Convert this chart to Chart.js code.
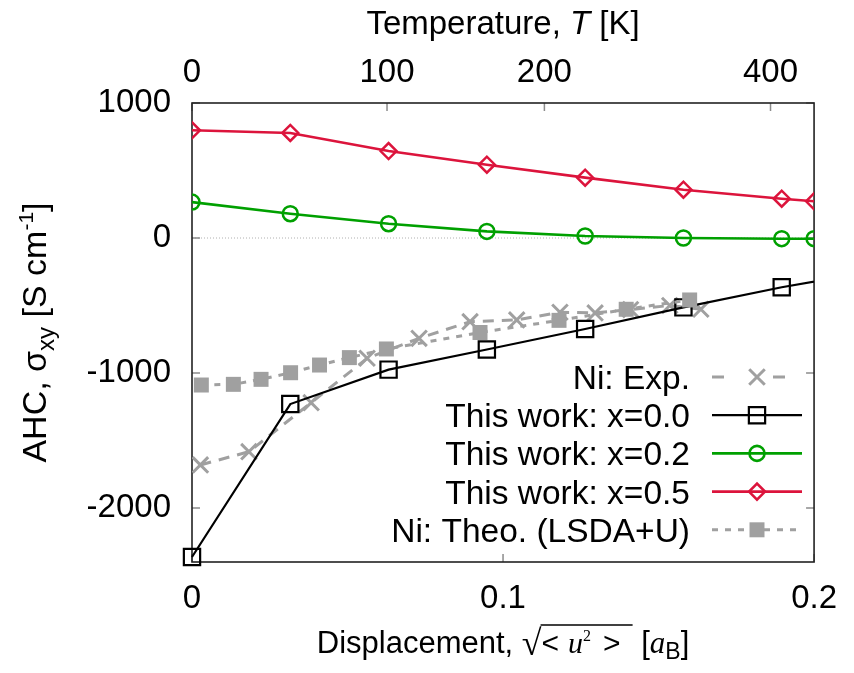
<!DOCTYPE html>
<html>
<head>
<meta charset="utf-8">
<script src="https://cdn.jsdelivr.net/npm/chart.js@4.4.0/dist/chart.umd.min.js"></script>
<style>
    html, body { margin: 0; padding: 0; background: #fff; }
    #wrap { width: 854px; height: 673px; }
</style>
</head>
<body>
<div id="wrap"><canvas id="ahc_chart" width="854" height="673"></canvas></div>
<script>
// axis ticks
const dispTicks = [0, 0.1, 0.2];
const ahcTicks = [-2000, -1000, 0, 1000];
// temperature scale on top, placed at the matching displacement
const tempLabels = ['0', '100', '200', '400'];
const tempAtDisp = [0, 0.0627, 0.1133, 0.186];

// this work (x = Co content)
const workDisp = [0, 0.0316, 0.0632, 0.0948, 0.1264, 0.158, 0.1896, 0.2];
const workDispX00 = [0, 0.0316, 0.0632, 0.0948, 0.1264, 0.158, 0.1896, 0.2212];
const ahcX00 = [-2363, -1230, -975, -826, -674, -514, -365, -237];
const ahcX02 = [266, 180, 106, 49, 15, 0, -5, -5];
const ahcX05 = [798, 778, 644, 543, 447, 358, 291, 272];

// Ni reference data
const expDisp = [0.0027, 0.0183, 0.0383, 0.0563, 0.073, 0.0894, 0.1044, 0.1183, 0.1296, 0.141, 0.1536, 0.1636];
const expAhc = [-1681, -1583, -1220, -891, -743, -620, -607, -550, -555, -530, -500, -528];
const theoDisp = [0.003, 0.0133, 0.0222, 0.0317, 0.041, 0.0506, 0.0625, 0.0926, 0.118, 0.1396, 0.160];
const theoAhc = [-1089, -1084, -1047, -998, -941, -886, -822, -700, -610, -528, -459];

const SANS = "'Liberation Sans', Arial, Helvetica, sans-serif";
const SERIF = "'Liberation Serif', 'Times New Roman', serif";
const GRAY = '#a0a0a0';
const NONE = 'rgba(0,0,0,0)';

const pts = (xs, ys) => xs.map((x, i) => ({ x: x, y: ys[i] }));

// legend order, top to bottom
const legendOrder = ['Ni: Exp.', 'This work: x=0.0', 'This work: x=0.2', 'This work: x=0.5', 'Ni: Theo. (LSDA+U)'];

// draws a run of differently styled pieces centred on x
function richText(ctx, parts, x, y) {
    let total = 0;
    parts.forEach(p => {
        ctx.font = p.font;
        p.w = ctx.measureText(p.text).width + (p.gap || 0);
        total += p.w;
    });
    let cx = x - total / 2;
    const marks = {};
    parts.forEach(p => {
        ctx.font = p.font;
        if (p.mark) marks[p.mark] = cx;
        ctx.fillText(p.text, cx, y + (p.dy || 0));
        cx += p.w;
        if (p.markEnd) marks[p.markEnd] = cx;
    });
    return marks;
}

const framePlugin = {
    id: 'frame',
    beforeDatasetsDraw(chart) {
        const { ctx, chartArea: a, scales } = chart;
        ctx.save();
        // zero line
        const y0 = scales.y.getPixelForValue(0);
        ctx.strokeStyle = '#b0b0b0';
        ctx.lineWidth = 1;
        ctx.setLineDash([1, 2]);
        ctx.beginPath();
        ctx.moveTo(a.left, y0);
        ctx.lineTo(a.right, y0);
        ctx.stroke();
        ctx.setLineDash([]);

        // inward tick marks
        const tl = 8;
        ctx.strokeStyle = '#8c8c8c';
        ctx.lineWidth = 1.5;
        ctx.beginPath();
        ahcTicks.forEach(v => {
            const y = scales.y.getPixelForValue(v);
            ctx.moveTo(a.left, y); ctx.lineTo(a.left + tl, y);
            ctx.moveTo(a.right, y); ctx.lineTo(a.right - tl, y);
        });
        dispTicks.forEach(v => {
            const x = scales.x.getPixelForValue(v);
            ctx.moveTo(x, a.bottom); ctx.lineTo(x, a.bottom - tl);
        });
        tempAtDisp.forEach(v => {
            const x = scales.x2.getPixelForValue(v);
            ctx.moveTo(x, a.top); ctx.lineTo(x, a.top + tl);
        });
        ctx.stroke();

        // border
        ctx.strokeStyle = '#222';
        ctx.lineWidth = 1.6;
        ctx.strokeRect(a.left, a.top, a.right - a.left, a.bottom - a.top);
        ctx.restore();
    },
    afterDatasetsDraw(chart) {
        const ctx = chart.ctx;
        const rowTop = 377, rowStep = 38.2;
        const textRight = 690, lineL = 712, lineR = 802, markX = 757;
        ctx.save();
        legendOrder.forEach((label, i) => {
            const ds = chart.data.datasets.find(d => d.label === label);
            const y = rowTop + i * rowStep;
            ctx.fillStyle = '#000';
            ctx.font = '33.5px ' + SANS;
            ctx.textAlign = 'right';
            ctx.textBaseline = 'alphabetic';
            ctx.fillText(label, textRight, y + 12);

            ctx.strokeStyle = ds.borderColor;
            ctx.lineWidth = ds.borderWidth;
            ctx.setLineDash(ds.keyDash || ds.borderDash || []);
            ctx.beginPath();
            ctx.moveTo(lineL, y);
            ctx.lineTo(lineR, y);
            ctx.stroke();
            ctx.setLineDash([]);

            ctx.strokeStyle = ds.pointBorderColor;
            ctx.fillStyle = ds.pointBackgroundColor;
            Chart.helpers.drawPoint(ctx, {
                pointStyle: ds.pointStyle,
                radius: ds.pointRadius,
                rotation: 0,
                borderWidth: ds.pointBorderWidth
            }, markX, y);
        });
        ctx.restore();
    },
    afterDraw(chart) {
        const { ctx, chartArea: a } = chart;
        const cx = (a.left + a.right) / 2;
        ctx.save();
        ctx.fillStyle = '#000';
        ctx.textAlign = 'left';
        ctx.textBaseline = 'alphabetic';

        // top axis title
        richText(ctx, [
            { text: 'Temperature, ', font: '33px ' + SANS },
            { text: 'T', font: 'italic 33px ' + SANS },
            { text: ' [K]', font: '33px ' + SANS }
        ], cx, 34);

        // bottom axis title
        const base = 653;
        const m = richText(ctx, [
            { text: 'Displacement, ', font: '31px ' + SANS },
            { text: '\u221A', font: '36px ' + SERIF, dy: 2 },
            { text: '<', font: '30px ' + SANS, mark: 'ovL', gap: 9 },
            { text: 'u', font: 'italic 30px ' + SERIF },
            { text: '2', font: '16px ' + SERIF, dy: -12, gap: 12 },
            { text: '>', font: '30px ' + SANS, gap: 12, markEnd: 'ovR' },
            { text: ' [', font: '31px ' + SANS },
            { text: 'a', font: 'italic 31px ' + SERIF },
            { text: 'B', font: '23px ' + SANS, dy: 6 },
            { text: ']', font: '31px ' + SANS }
        ], cx, base);
        ctx.strokeStyle = '#000';
        ctx.lineWidth = 1.3;
        ctx.beginPath();
        ctx.moveTo(m.ovL - 1, base - 28);
        ctx.lineTo(m.ovR, base - 28);
        ctx.stroke();

        // left axis title, rotated
        ctx.translate(46, (a.top + a.bottom) / 2);
        ctx.rotate(-Math.PI / 2);
        richText(ctx, [
            { text: 'AHC, \u03C3', font: '34px ' + SANS },
            { text: 'xy', font: '24px ' + SANS, dy: 8 },
            { text: ' [S cm', font: '34px ' + SANS },
            { text: '-1', font: '21px ' + SANS, dy: -13 },
            { text: ']', font: '34px ' + SANS }
        ], 0, 0);
        ctx.restore();
    }
};

const tickFont = { family: SANS, size: 33 };

new Chart(document.getElementById('ahc_chart'), {
    type: 'line',
    data: {
        datasets: [
            {
                label: 'Ni: Exp.',
                data: pts(expDisp, expAhc),
                order: 5,
                borderColor: GRAY,
                borderWidth: 3,
                borderDash: [11, 8],
                keyDash: [12, 49],
                pointStyle: 'crossRot',
                pointRadius: 11,
                pointBorderWidth: 3,
                pointBorderColor: GRAY,
                pointBackgroundColor: NONE
            },
            {
                label: 'This work: x=0.0',
                data: pts(workDispX00, ahcX00),
                order: 4,
                borderColor: '#000',
                borderWidth: 2.2,
                pointStyle: 'rect',
                pointRadius: 11.5,
                pointBorderWidth: 2.2,
                pointBorderColor: '#000',
                pointBackgroundColor: NONE,
                clip: { left: 20, top: 20, right: 0, bottom: 20 }
            },
            {
                label: 'This work: x=0.2',
                data: pts(workDisp, ahcX02),
                order: 3,
                borderColor: '#00a000',
                borderWidth: 2.6,
                pointStyle: 'circle',
                pointRadius: 7.5,
                pointBorderWidth: 2.5,
                pointBorderColor: '#00a000',
                pointBackgroundColor: NONE
            },
            {
                label: 'This work: x=0.5',
                data: pts(workDisp, ahcX05),
                order: 2,
                borderColor: '#dc143c',
                borderWidth: 2.6,
                pointStyle: 'rectRot',
                pointRadius: 8,
                pointBorderWidth: 2.5,
                pointBorderColor: '#dc143c',
                pointBackgroundColor: NONE
            },
            {
                label: 'Ni: Theo. (LSDA+U)',
                data: pts(theoDisp, theoAhc),
                order: 1,
                borderColor: GRAY,
                borderWidth: 3,
                borderDash: [6, 7],
                pointStyle: 'rect',
                pointRadius: 10.6,
                pointBorderWidth: 0,
                pointBorderColor: GRAY,
                pointBackgroundColor: GRAY
            }
        ]
    },
    options: {
        responsive: false,
        animation: false,
        devicePixelRatio: 1,
        layout: { padding: { left: 0, right: 31, top: 0, bottom: 0 } },
        plugins: {
            legend: { display: false },
            tooltip: { enabled: false }
        },
        elements: { line: { tension: 0 } },
        scales: {
            x: {
                type: 'linear',
                position: 'bottom',
                min: 0,
                max: 0.2,
                grid: { display: false, drawTicks: false },
                border: { display: false },
                afterBuildTicks: s => { s.ticks = dispTicks.map(v => ({ value: v })); },
                afterFit: s => { s.height = 111; },
                ticks: {
                    font: tickFont,
                    color: '#000',
                    padding: 17,
                    maxRotation: 0,
                    callback: v => (v === 0 ? '0' : v.toFixed(1))
                }
            },
            x2: {
                type: 'linear',
                position: 'top',
                min: 0,
                max: 0.2,
                grid: { display: false, drawTicks: false },
                border: { display: false },
                afterBuildTicks: s => { s.ticks = tempAtDisp.map(v => ({ value: v })); },
                afterFit: s => { s.height = 103; },
                ticks: {
                    font: tickFont,
                    color: '#000',
                    padding: 10,
                    maxRotation: 0,
                    callback: (v, i) => tempLabels[i]
                }
            },
            y: {
                type: 'linear',
                position: 'left',
                min: -2400,
                max: 1000,
                grid: { display: false, drawTicks: false },
                border: { display: false },
                afterBuildTicks: s => { s.ticks = ahcTicks.map(v => ({ value: v })); },
                afterFit: s => { s.width = 192; },
                ticks: {
                    font: tickFont,
                    color: '#000',
                    padding: 21,
                    callback: v => String(v)
                }
            }
        }
    },
    plugins: [framePlugin]
});
</script>
</body>
</html>
